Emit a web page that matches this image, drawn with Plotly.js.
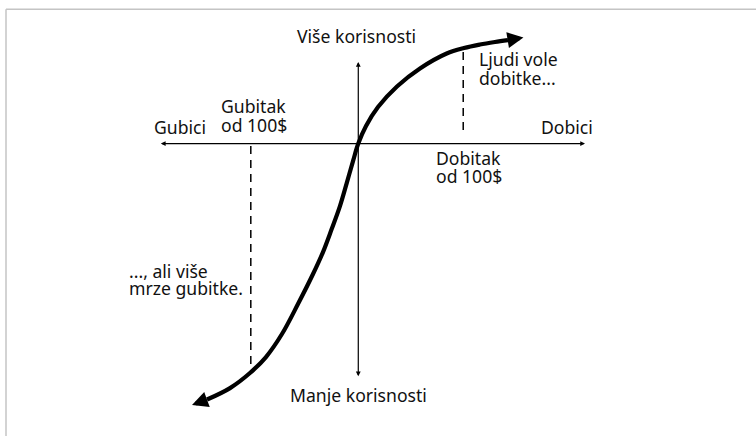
<!DOCTYPE html>
<html>
<head>
<meta charset="utf-8">
<script src="https://cdn.plot.ly/plotly-3.0.1.min.js"></script>
<style>
  html, body { margin: 0; padding: 0; background: #fff; }
  #chart { width: 756px; height: 436px; }
</style>
</head>
<body>
<div id="chart"></div>
<script>
// value function: x = gain / loss in $, u = utility
var gainX = [0, 7.3, 18.6, 36.5, 58.2, 83.4, 99.7, 114.8, 128.9, 141.2];
var gainU = [0, 16.5, 34.4, 53.8, 70.8, 84.9, 90.1, 93.4, 95.8, 97.6];
var gainTip = [155.8, 100.0];

var lossX = [0, -4.7, -10.9, -17.3, -25.1, -33.3, -42.7, -56.9, -72.0, -87.1, -102.2, -121.0, -142.7];
var lossU = [0, -15.6, -37.3, -59.0, -80.7, -102.4, -123.1, -151.4, -179.7, -201.4, -216.5, -230.7, -241.5];
var lossTip = [-156.9, -246.7];

// dashed markers at +/- 100$
var gainDashX = [99, 99];
var gainDashU = [86.3, 9.0];
var lossDashX = [-101.4, -101.4];
var lossDashU = [-2.4, -212.5];

// axis extents
var axisX = [-187.7, 213.9];
var axisU = [76.9, -220.9];

var ink = '#000000';
var txt = '#111111';
var fontFam = 'Noto Sans, Open Sans, sans-serif';

// one continuous curve: loss branch (reversed) then gain branch
var curveX = lossX.slice().reverse().concat(gainX.slice(1));
var curveU = lossU.slice().reverse().concat(gainU.slice(1));

function dashed(x, y) {
    return {
        x: x, y: y, type: 'scatter', mode: 'lines',
        line: {color: ink, width: 1.5, dash: '8px,6px'},
        hoverinfo: 'skip'
    };
}

function head(tip, fromX, fromY) {
    return {
        x: tip[0], y: tip[1], ax: fromX, ay: fromY,
        xref: 'x', yref: 'y', axref: 'x', ayref: 'y',
        text: '', showarrow: true,
        arrowhead: 2, arrowsize: 0.8, arrowwidth: 4, arrowcolor: ink
    };
}

function axisArrow(x0, y0, x1, y1) {
    return {
        x: x1, y: y1, ax: x0, ay: y0,
        xref: 'x', yref: 'y', axref: 'x', ayref: 'y',
        text: '', showarrow: true, arrowside: 'end+start',
        arrowhead: 2, startarrowhead: 2,
        arrowsize: 0.8, startarrowsize: 0.8,
        arrowwidth: 1.2, arrowcolor: ink
    };
}

// label placed by pixel position (px, py = vertical centre)
function lbl(text, px, py, anchor) {
    return {
        text: text, showarrow: false,
        xref: 'paper', yref: 'paper',
        x: px / 756, y: 1 - py / 436,
        xanchor: anchor, yanchor: 'middle', borderpad: 0,
        font: {family: fontFam, size: 17.6, color: txt}
    };
}

var data = [
    {
        x: curveX, y: curveU, type: 'scatter', mode: 'lines',
        line: {color: ink, width: 4.2, shape: 'spline', smoothing: 1},
        hoverinfo: 'skip'
    },
    dashed(gainDashX, gainDashU),
    dashed(lossDashX, lossDashU)
];

var n = gainX.length - 1, m = lossX.length - 1;

var layout = {
    width: 756,
    height: 436,
    margin: {l: 0, r: 0, t: 0, b: 0},
    paper_bgcolor: '#ffffff',
    plot_bgcolor: '#ffffff',
    showlegend: false,
    hovermode: false,
    xaxis: {range: [-338.0, 375.2], visible: false, fixedrange: true},
    yaxis: {range: [-275.9, 135.4], visible: false, fixedrange: true},
    shapes: [
        {type: 'line', xref: 'paper', yref: 'paper', x0: 6 / 756, x1: 1.01, y0: 1 - 9.3 / 436, y1: 1 - 9.3 / 436,
         line: {color: '#c4c4c4', width: 1.5}},
        {type: 'line', xref: 'paper', yref: 'paper', x0: 6 / 756, x1: 6 / 756, y0: -0.01, y1: 1 - 9.3 / 436,
         line: {color: '#c4c4c4', width: 1.5}}
    ],
    annotations: [
        axisArrow(axisX[0], 0, axisX[1], 0),
        axisArrow(0, axisU[1], 0, axisU[0]),
        head(gainTip, gainX[n], gainU[n]),
        head(lossTip, lossX[m], lossU[m]),
        lbl('Više korisnosti', 356.5, 36, 'center'),
        lbl('Manje korisnosti', 358, 395.4, 'center'),
        lbl('Gubici', 152.5, 126.7, 'left'),
        lbl('Gubitak', 219.5, 106.4, 'left'),
        lbl('od 100$', 219.5, 125.4, 'left'),
        lbl('Dobici', 539.5, 126.7, 'left'),
        lbl('Dobitak', 434.5, 158.4, 'left'),
        lbl('od 100$', 434.5, 176.4, 'left'),
        lbl('Ljudi vole', 478, 59, 'left'),
        lbl('dobitke...', 478, 78, 'left'),
        lbl('..., ali više', 127.5, 271.4, 'left'),
        lbl('mrze gubitke.', 127.5, 287.5, 'left')
    ]
};

Plotly.newPlot('chart', data, layout, {displayModeBar: false, staticPlot: true});
</script>
</body>
</html>
